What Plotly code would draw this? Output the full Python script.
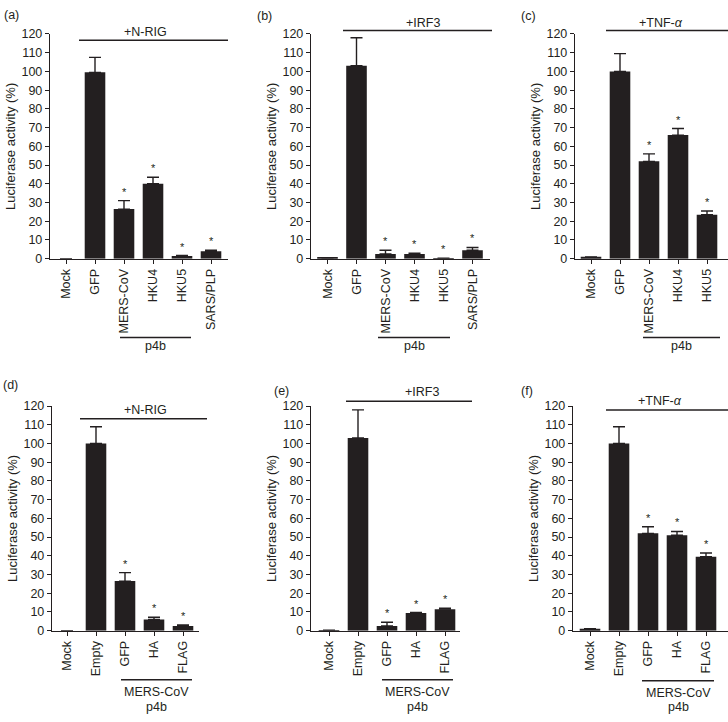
import plotly.graph_objects as go

W, H = 728, 722

# ---------------- data ----------------
cats_a = ["Mock", "GFP", "MERS-CoV", "HKU4", "HKU5", "SARS/PLP"]
vals_a = [0, 99.5, 26.5, 40, 1.5, 4]
err_a = [0, 8, 4.5, 3.5, 0.2, 0.5]
star_a = ["", "", "*", "*", "*", "*"]

cats_b = ["Mock", "GFP", "MERS-CoV", "HKU4", "HKU5", "SARS/PLP"]
vals_b = [0.5, 103, 2.5, 2.5, 0.3, 4.5]
err_b = [0, 15, 2, 0.5, 0, 1.5]
star_b = ["", "", "*", "*", "*", "*"]

cats_c = ["Mock", "GFP", "MERS-CoV", "HKU4", "HKU5"]
vals_c = [1, 100, 52, 66, 23.5]
err_c = [0, 9.5, 4, 3.5, 2]
star_c = ["", "", "*", "*", "*"]

cats_d = ["Mock", "Empty", "GFP", "HA", "FLAG"]
vals_d = [0, 100, 26.5, 6, 2.5]
err_d = [0, 9, 4.5, 1.2, 0.5]
star_d = ["", "", "*", "*", "*"]

cats_e = ["Mock", "Empty", "GFP", "HA", "FLAG"]
vals_e = [0.3, 103, 2.5, 9.5, 11.5]
err_e = [0, 15, 2, 0.2, 0.5]
star_e = ["", "", "*", "*", "*"]

cats_f = ["Mock", "Empty", "GFP", "HA", "FLAG"]
vals_f = [1, 100, 52, 51, 39.5]
err_f = [0, 9, 3.5, 2, 2]
star_f = ["", "", "*", "*", "*"]

y_ticks = list(range(0, 121, 10))

# ---------------- layout helpers ----------------
INK = "#231f20"
FONT = "Liberation Sans, Arial, sans-serif"


def px(x):
    return x / W


def py(y):
    return 1 - y / H


panels = [
    # name, cats, vals, err, stars, axis-left px, first-cat px, axis-right px, row
    ("a", cats_a, vals_a, err_a, star_a, 50, 66, 228, 0),
    ("b", cats_b, vals_b, err_b, star_b, 311, 327.5, 490, 0),
    ("c", cats_c, vals_c, err_c, star_c, 575, 591, 728, 0),
    ("d", cats_d, vals_d, err_d, star_d, 52, 67, 199, 1),
    ("e", cats_e, vals_e, err_e, star_e, 311, 329, 460, 1),
    ("f", cats_f, vals_f, err_f, star_f, 573, 590, 728, 1),
]
SP = 29.0
row_y = {0: (256.7, 27.5), 1: (636, 407)}

fig = go.Figure()
layout = dict(
    width=W, height=H, margin=dict(l=0, r=0, t=0, b=0),
    paper_bgcolor="white", plot_bgcolor="white", showlegend=False,
    font=dict(family=FONT, size=12, color=INK),
)
annotations = []
shapes = []

for i, (name, cats, vals, err, stars, xl, c0, xr, row) in enumerate(panels):
    k = "" if i == 0 else str(i + 1)
    xa, ya = "x" + k, "y" + k
    idx = list(range(len(cats)))
    fig.add_trace(go.Bar(
        x=idx, y=vals, xaxis=xa, yaxis=ya, width=0.71,
        marker=dict(color=INK, line=dict(width=0)),
        error_y=dict(type="data", symmetric=False, array=err,
                     arrayminus=[0] * len(err), color=INK, thickness=1.4, width=6),
    ))
    # significance stars above the error bars
    for j, (v, e, s) in enumerate(zip(vals, err, stars)):
        if s:
            annotations.append(dict(text=s, x=j, y=v + e, xref=xa, yref=ya,
                                    xanchor="center", yanchor="bottom", yshift=1,
                                    showarrow=False,
                                    font=dict(size=11, color=INK, family=FONT)))
    y0, y1 = row_y[row]
    rng = [-(c0 - xl) / SP, (xr - c0) / SP]
    layout["xaxis" + k] = dict(
        domain=[px(xl), px(xr)], range=rng, anchor=ya,
        tickmode="array", tickvals=idx, ticktext=cats, tickangle=-90,
        ticks="outside", ticklen=4, tickwidth=1.2, tickcolor=INK,
        showline=True, linecolor=INK, linewidth=1.4, showgrid=False, zeroline=False,
        tickfont=dict(size=12.5, color=INK, family=FONT), fixedrange=True,
    )
    layout["yaxis" + k] = dict(
        domain=[py(y0), py(y1)], range=[0, 120], anchor=xa,
        tickmode="array", tickvals=y_ticks, ticks="outside", ticklen=4,
        tickwidth=1.2, tickcolor=INK, showline=True, linecolor=INK, linewidth=1.4,
        showgrid=False, zeroline=False, tickfont=dict(size=12.5, color=INK, family=FONT),
        title=dict(text="Luciferase activity (%)", standoff=2,
                   font=dict(size=13, color=INK, family=FONT)),
        fixedrange=True,
    )

# panel letters
for lab, x, y in [("(a)", 2, 8), ("(b)", 255, 9), ("(c)", 519, 9),
                  ("(d)", 1, 385), ("(e)", 272, 392), ("(f)", 519, 392)]:
    annotations.append(dict(text=lab, x=px(x), y=py(y), xref="paper", yref="paper",
                            xanchor="left", yanchor="middle", showarrow=False,
                            font=dict(size=12.5, color=INK, family=FONT)))

# top treatment brackets
for txt, x0, x1, ly, tx, ty in [
    ("+N-RIG", 79, 228, 34, 145, 25),
    ("+IRF3", 343, 492, 24, 423, 16),
    ("+TNF-<i>α</i>", 606, 728, 24, 661, 16),
    ("+N-RIG", 80, 207, 420, 145, 411),
    ("+IRF3", 346, 472, 402, 422, 393),
    ("+TNF-<i>α</i>", 606, 728, 411, 660, 402),
]:
    shapes.append(dict(type="line", xref="paper", yref="paper", x0=px(x0), x1=px(x1),
                       y0=py(ly), y1=py(ly), line=dict(color=INK, width=1.5)))
    annotations.append(dict(text=txt, x=px(tx), y=py(ty), xref="paper", yref="paper",
                            xanchor="center", yanchor="middle", showarrow=False,
                            font=dict(size=12.5, color=INK, family=FONT)))

# bottom p4b brackets
for x0, x1, ly, lines in [
    (120, 191, 337, [("p4b", 346)]),
    (378, 450, 337, [("p4b", 346)]),
    (643, 720, 337, [("p4b", 346)]),
    (121, 192, 686, [("MERS-CoV", 699), ("p4b", 714)]),
    (382, 453, 686, [("MERS-CoV", 699), ("p4b", 714)]),
    (642, 714, 687, [("MERS-CoV", 700), ("p4b", 714)]),
]:
    shapes.append(dict(type="line", xref="paper", yref="paper", x0=px(x0), x1=px(x1),
                       y0=py(ly), y1=py(ly), line=dict(color=INK, width=1.5)))
    for t, ty in lines:
        annotations.append(dict(text=t, x=px((x0 + x1) / 2), y=py(ty), xref="paper",
                                yref="paper", xanchor="center", yanchor="middle",
                                showarrow=False, font=dict(size=12.5, color=INK, family=FONT)))

layout["annotations"] = annotations
layout["shapes"] = shapes
fig.update_layout(**layout)
fig.write_html(
    "out.html",
    config={"displayModeBar": False},
    post_script="document.body.style.margin='0';document.body.style.padding='0';"
                "document.body.style.overflow='hidden';",
)
